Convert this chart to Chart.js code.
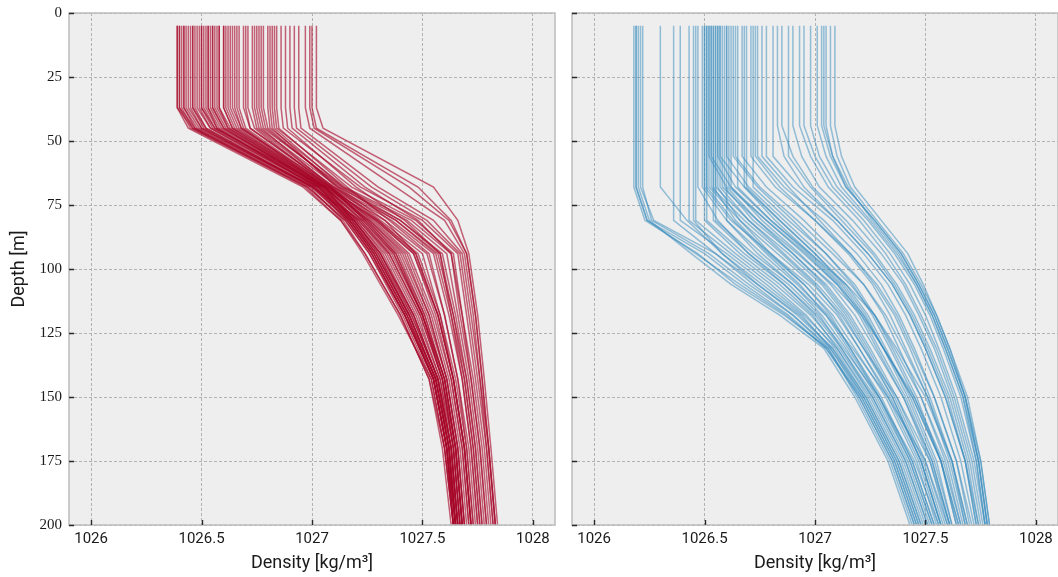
<!DOCTYPE html>
<html><head><meta charset="utf-8">
<script src="https://cdn.jsdelivr.net/npm/chart.js@4.4.1/dist/chart.umd.min.js"></script>
<style>
html,body{margin:0;padding:0;background:#fff;}
#wrap{position:relative;width:1058px;height:577px;overflow:hidden;background:#fff;}
canvas{position:absolute;top:0;}
#c1{left:0;}
#c2{left:562px;}
</style></head><body>
<div id="wrap"><canvas id="c1" width="562" height="577"></canvas><canvas id="c2" width="496" height="577"></canvas></div>
<script>
const xTicks = [1026, 1026.5, 1027, 1027.5, 1028];
const yTicks = [0, 25, 50, 75, 100, 125, 150, 175, 200];
const xLabel = 'Density [kg/m³]';
const yLabel = 'Depth [m]';

// Red panel: depth levels [m] and density profiles [kg/m3]
const redDepths = [5, 37, 45, 68, 81, 94, 118, 143, 170, 200];
const redProfiles = [
[1026.39,1026.39,1026.46,1026.99,1027.14,1027.24,1027.40,1027.53,1027.59,1027.63],
[1026.39,1026.39,1026.44,1026.96,1027.13,1027.23,1027.39,1027.54,1027.60,1027.64],
[1026.40,1026.40,1026.47,1027.00,1027.16,1027.27,1027.42,1027.55,1027.61,1027.65],
[1026.40,1026.40,1026.45,1026.98,1027.15,1027.26,1027.42,1027.55,1027.61,1027.65],
[1026.41,1026.41,1026.46,1026.97,1027.13,1027.24,1027.40,1027.53,1027.60,1027.64],
[1026.42,1026.42,1026.48,1027.01,1027.18,1027.30,1027.44,1027.56,1027.62,1027.66],
[1026.42,1026.42,1026.47,1026.98,1027.15,1027.26,1027.41,1027.54,1027.60,1027.64],
[1026.43,1026.43,1026.49,1027.01,1027.19,1027.31,1027.46,1027.57,1027.63,1027.66],
[1026.44,1026.44,1026.50,1027.02,1027.20,1027.33,1027.47,1027.58,1027.64,1027.67],
[1026.45,1026.45,1026.50,1027.00,1027.17,1027.29,1027.44,1027.56,1027.62,1027.65],
[1026.46,1026.46,1026.52,1027.03,1027.17,1027.28,1027.43,1027.55,1027.61,1027.65],
[1026.46,1026.46,1026.51,1027.01,1027.16,1027.27,1027.42,1027.55,1027.61,1027.64],
[1026.47,1026.47,1026.52,1027.00,1027.22,1027.36,1027.50,1027.60,1027.65,1027.68],
[1026.48,1026.48,1026.54,1027.03,1027.21,1027.35,1027.49,1027.59,1027.64,1027.67],
[1026.49,1026.49,1026.54,1027.03,1027.18,1027.29,1027.44,1027.56,1027.62,1027.65],
[1026.50,1026.50,1026.55,1027.04,1027.19,1027.31,1027.45,1027.57,1027.63,1027.66],
[1026.50,1026.50,1026.56,1027.06,1027.23,1027.37,1027.50,1027.60,1027.65,1027.68],
[1026.51,1026.51,1026.56,1027.05,1027.25,1027.40,1027.52,1027.61,1027.66,1027.69],
[1026.52,1026.52,1026.57,1027.02,1027.16,1027.27,1027.42,1027.55,1027.61,1027.64],
[1026.53,1026.53,1026.58,1027.05,1027.19,1027.30,1027.45,1027.57,1027.62,1027.65],
[1026.53,1026.53,1026.57,1027.03,1027.17,1027.28,1027.43,1027.56,1027.62,1027.65],
[1026.54,1026.54,1026.59,1027.06,1027.28,1027.44,1027.55,1027.63,1027.68,1027.71],
[1026.55,1026.55,1026.60,1027.04,1027.21,1027.34,1027.48,1027.58,1027.63,1027.66],
[1026.55,1026.55,1026.60,1027.06,1027.26,1027.41,1027.53,1027.61,1027.66,1027.69],
[1026.56,1026.56,1026.61,1027.04,1027.17,1027.28,1027.43,1027.55,1027.61,1027.64],
[1026.57,1026.57,1026.62,1027.07,1027.30,1027.48,1027.58,1027.65,1027.70,1027.73],
[1026.58,1026.58,1026.62,1027.05,1027.23,1027.37,1027.50,1027.59,1027.64,1027.67],
[1026.58,1026.58,1026.63,1027.05,1027.19,1027.31,1027.46,1027.57,1027.63,1027.66],
[1026.60,1026.60,1026.64,1027.06,1027.18,1027.29,1027.44,1027.56,1027.62,1027.65],
[1026.60,1026.60,1026.64,1027.07,1027.29,1027.46,1027.57,1027.64,1027.69,1027.72],
[1026.61,1026.61,1026.65,1027.08,1027.33,1027.52,1027.60,1027.66,1027.71,1027.74],
[1026.62,1026.62,1026.66,1027.06,1027.22,1027.35,1027.49,1027.59,1027.64,1027.67],
[1026.63,1026.63,1026.67,1027.07,1027.26,1027.42,1027.53,1027.61,1027.66,1027.69],
[1026.64,1026.64,1026.68,1027.08,1027.24,1027.38,1027.51,1027.60,1027.65,1027.68],
[1026.65,1026.65,1026.68,1027.09,1027.36,1027.55,1027.62,1027.68,1027.72,1027.75],
[1026.66,1026.66,1026.69,1027.06,1027.20,1027.32,1027.46,1027.57,1027.63,1027.66],
[1026.67,1026.67,1026.70,1027.08,1027.25,1027.39,1027.51,1027.60,1027.65,1027.68],
[1026.69,1026.69,1026.72,1027.09,1027.27,1027.43,1027.54,1027.62,1027.67,1027.70],
[1026.70,1026.70,1026.72,1027.10,1027.38,1027.57,1027.64,1027.69,1027.73,1027.76],
[1026.71,1026.71,1026.74,1027.08,1027.29,1027.46,1027.56,1027.63,1027.68,1027.71],
[1026.73,1026.73,1026.75,1027.10,1027.30,1027.47,1027.57,1027.64,1027.69,1027.72],
[1026.74,1026.74,1026.76,1027.12,1027.40,1027.59,1027.65,1027.70,1027.74,1027.77],
[1026.75,1026.75,1026.77,1027.09,1027.24,1027.38,1027.50,1027.59,1027.65,1027.68],
[1026.76,1026.76,1026.78,1027.14,1027.43,1027.61,1027.66,1027.71,1027.75,1027.78],
[1026.77,1026.77,1026.79,1027.13,1027.38,1027.56,1027.63,1027.69,1027.73,1027.76],
[1026.78,1026.78,1026.80,1027.12,1027.33,1027.47,1027.57,1027.64,1027.69,1027.72],
[1026.80,1026.80,1026.81,1027.15,1027.45,1027.63,1027.67,1027.72,1027.76,1027.79],
[1026.81,1026.81,1026.82,1027.11,1027.31,1027.50,1027.58,1027.64,1027.69,1027.72],
[1026.82,1026.82,1026.83,1027.14,1027.40,1027.58,1027.64,1027.70,1027.74,1027.77],
[1026.83,1026.83,1026.84,1027.18,1027.47,1027.64,1027.68,1027.73,1027.77,1027.80],
[1026.84,1026.84,1026.85,1027.16,1027.35,1027.53,1027.60,1027.66,1027.70,1027.73],
[1026.86,1026.86,1026.87,1027.22,1027.50,1027.66,1027.70,1027.74,1027.78,1027.81],
[1026.88,1026.88,1026.89,1027.20,1027.42,1027.58,1027.63,1027.68,1027.72,1027.75],
[1026.90,1026.90,1026.91,1027.24,1027.48,1027.63,1027.68,1027.72,1027.76,1027.79],
[1026.92,1026.92,1026.93,1027.27,1027.52,1027.67,1027.71,1027.75,1027.79,1027.82],
[1026.94,1026.94,1026.95,1027.30,1027.55,1027.68,1027.72,1027.76,1027.80,1027.83],
[1026.97,1026.97,1026.99,1027.38,1027.60,1027.69,1027.73,1027.76,1027.79,1027.82],
[1026.99,1026.99,1027.01,1027.44,1027.62,1027.70,1027.74,1027.77,1027.80,1027.83],
[1027.00,1027.00,1027.02,1027.48,1027.63,1027.70,1027.74,1027.77,1027.80,1027.83],
[1027.02,1027.02,1027.05,1027.55,1027.66,1027.71,1027.75,1027.78,1027.81,1027.84]
];

// Blue panel: depth levels [m] and density profiles [kg/m3]
const blueDepths = [5, 44, 56, 68, 81, 94, 106, 118, 131, 150, 175, 200];
const blueProfiles = [
[1026.18,1026.18,1026.18,1026.18,1026.23,1026.47,1026.64,1026.86,1027.06,1027.19,1027.34,1027.44],
[1026.19,1026.19,1026.19,1026.19,1026.24,1026.50,1026.68,1026.88,1027.05,1027.21,1027.36,1027.46],
[1026.19,1026.19,1026.19,1026.19,1026.24,1026.46,1026.66,1026.87,1027.05,1027.20,1027.35,1027.45],
[1026.20,1026.20,1026.20,1026.20,1026.25,1026.44,1026.62,1026.84,1027.04,1027.18,1027.33,1027.43],
[1026.21,1026.21,1026.21,1026.21,1026.27,1026.55,1026.74,1026.93,1027.08,1027.23,1027.38,1027.48],
[1026.22,1026.22,1026.22,1026.22,1026.26,1026.52,1026.70,1026.90,1027.07,1027.22,1027.37,1027.47],
[1026.30,1026.30,1026.30,1026.30,1026.42,1026.58,1026.74,1026.92,1027.08,1027.22,1027.37,1027.47],
[1026.36,1026.36,1026.36,1026.36,1026.36,1026.55,1026.72,1026.90,1027.06,1027.20,1027.35,1027.45],
[1026.39,1026.39,1026.39,1026.39,1026.39,1026.60,1026.78,1026.95,1027.10,1027.25,1027.40,1027.50],
[1026.43,1026.43,1026.43,1026.43,1026.43,1026.62,1026.80,1026.96,1027.09,1027.23,1027.38,1027.48],
[1026.45,1026.45,1026.45,1026.45,1026.45,1026.58,1026.76,1026.94,1027.07,1027.21,1027.36,1027.46],
[1026.46,1026.46,1026.46,1026.46,1026.46,1026.64,1026.82,1026.98,1027.11,1027.26,1027.41,1027.51],
[1026.47,1026.47,1026.47,1026.47,1026.56,1026.70,1026.86,1027.00,1027.12,1027.27,1027.42,1027.52],
[1026.49,1026.49,1026.49,1026.49,1026.60,1026.74,1026.90,1027.03,1027.14,1027.28,1027.43,1027.53],
[1026.50,1026.50,1026.50,1026.50,1026.50,1026.66,1026.84,1026.99,1027.10,1027.24,1027.39,1027.49],
[1026.50,1026.50,1026.50,1026.50,1026.62,1026.80,1026.97,1027.10,1027.20,1027.34,1027.48,1027.57],
[1026.51,1026.51,1026.51,1026.51,1026.63,1026.78,1026.93,1027.05,1027.15,1027.29,1027.44,1027.54],
[1026.51,1026.51,1026.51,1026.51,1026.51,1026.68,1026.86,1027.01,1027.13,1027.29,1027.45,1027.56],
[1026.52,1026.52,1026.52,1026.60,1026.74,1026.90,1027.04,1027.15,1027.24,1027.36,1027.49,1027.58],
[1026.52,1026.52,1026.52,1026.52,1026.66,1026.83,1026.99,1027.12,1027.22,1027.37,1027.52,1027.61],
[1026.53,1026.53,1026.53,1026.53,1026.68,1026.85,1027.00,1027.11,1027.20,1027.33,1027.47,1027.56],
[1026.53,1026.53,1026.53,1026.62,1026.78,1026.95,1027.10,1027.22,1027.31,1027.44,1027.57,1027.65],
[1026.54,1026.54,1026.54,1026.54,1026.54,1026.70,1026.88,1027.02,1027.12,1027.26,1027.41,1027.51],
[1026.54,1026.54,1026.54,1026.54,1026.64,1026.79,1026.95,1027.08,1027.18,1027.32,1027.46,1027.55],
[1026.55,1026.55,1026.55,1026.55,1026.70,1026.88,1027.03,1027.14,1027.23,1027.35,1027.48,1027.57],
[1026.55,1026.55,1026.55,1026.55,1026.55,1026.72,1026.90,1027.05,1027.17,1027.33,1027.50,1027.60],
[1026.56,1026.56,1026.56,1026.56,1026.66,1026.80,1026.95,1027.07,1027.16,1027.30,1027.44,1027.54],
[1026.56,1026.56,1026.56,1026.64,1026.80,1026.98,1027.14,1027.27,1027.37,1027.50,1027.62,1027.69],
[1026.57,1026.57,1026.57,1026.68,1026.84,1027.00,1027.13,1027.23,1027.31,1027.42,1027.54,1027.62],
[1026.57,1026.57,1026.57,1026.57,1026.70,1026.86,1027.01,1027.13,1027.22,1027.35,1027.48,1027.57],
[1026.58,1026.58,1026.58,1026.58,1026.74,1026.92,1027.08,1027.21,1027.31,1027.45,1027.58,1027.66],
[1026.59,1026.59,1026.59,1026.59,1026.72,1026.90,1027.05,1027.16,1027.25,1027.37,1027.50,1027.59],
[1026.60,1026.60,1026.60,1026.60,1026.60,1026.76,1026.92,1027.06,1027.16,1027.29,1027.43,1027.53],
[1026.60,1026.60,1026.60,1026.70,1026.86,1027.02,1027.16,1027.27,1027.36,1027.48,1027.60,1027.67],
[1026.61,1026.61,1026.61,1026.61,1026.78,1026.96,1027.10,1027.20,1027.28,1027.40,1027.52,1027.60],
[1026.62,1026.62,1026.62,1026.62,1026.76,1026.93,1027.07,1027.18,1027.27,1027.40,1027.53,1027.61],
[1026.63,1026.63,1026.63,1026.74,1026.90,1027.05,1027.17,1027.26,1027.34,1027.45,1027.57,1027.64],
[1026.64,1026.64,1026.64,1026.75,1026.92,1027.08,1027.22,1027.32,1027.40,1027.51,1027.62,1027.69],
[1026.65,1026.65,1026.65,1026.65,1026.80,1026.97,1027.11,1027.21,1027.29,1027.41,1027.53,1027.61],
[1026.67,1026.67,1026.67,1026.78,1026.95,1027.10,1027.22,1027.31,1027.38,1027.48,1027.59,1027.66],
[1026.68,1026.68,1026.68,1026.68,1026.82,1026.98,1027.12,1027.22,1027.31,1027.44,1027.57,1027.65],
[1026.69,1026.69,1026.69,1026.69,1026.84,1027.00,1027.14,1027.24,1027.32,1027.43,1027.55,1027.62],
[1026.71,1026.71,1026.71,1026.82,1027.00,1027.15,1027.26,1027.34,1027.41,1027.51,1027.61,1027.68],
[1026.72,1026.72,1026.72,1026.72,1026.88,1027.05,1027.18,1027.27,1027.35,1027.46,1027.57,1027.64],
[1026.73,1026.73,1026.73,1026.84,1027.00,1027.16,1027.28,1027.37,1027.44,1027.54,1027.64,1027.71],
[1026.74,1026.74,1026.74,1026.86,1027.04,1027.19,1027.30,1027.38,1027.45,1027.54,1027.64,1027.70],
[1026.76,1026.76,1026.76,1026.88,1027.02,1027.16,1027.27,1027.36,1027.43,1027.52,1027.62,1027.68],
[1026.78,1026.78,1026.78,1026.90,1027.08,1027.22,1027.33,1027.41,1027.48,1027.57,1027.66,1027.72],
[1026.81,1026.81,1026.81,1026.93,1027.10,1027.24,1027.35,1027.43,1027.50,1027.59,1027.68,1027.73],
[1026.83,1026.83,1026.86,1026.95,1027.10,1027.24,1027.35,1027.43,1027.50,1027.59,1027.68,1027.74],
[1026.85,1026.85,1026.90,1026.99,1027.14,1027.27,1027.37,1027.45,1027.52,1027.61,1027.69,1027.74],
[1026.88,1026.88,1026.88,1026.98,1027.12,1027.26,1027.36,1027.44,1027.51,1027.60,1027.68,1027.73],
[1026.90,1026.90,1026.94,1027.02,1027.17,1027.30,1027.40,1027.47,1027.54,1027.62,1027.70,1027.75],
[1026.93,1026.93,1026.98,1027.06,1027.20,1027.32,1027.41,1027.48,1027.55,1027.63,1027.71,1027.76],
[1026.95,1026.95,1027.00,1027.08,1027.22,1027.34,1027.43,1027.50,1027.56,1027.64,1027.72,1027.77],
[1026.98,1026.98,1027.02,1027.10,1027.24,1027.36,1027.45,1027.52,1027.58,1027.66,1027.73,1027.77],
[1027.01,1027.01,1027.05,1027.12,1027.25,1027.37,1027.46,1027.53,1027.59,1027.67,1027.74,1027.78],
[1027.03,1027.03,1027.07,1027.14,1027.27,1027.39,1027.47,1027.54,1027.60,1027.68,1027.74,1027.78],
[1027.04,1027.04,1027.08,1027.14,1027.27,1027.39,1027.47,1027.54,1027.60,1027.68,1027.74,1027.78],
[1027.05,1027.05,1027.08,1027.15,1027.26,1027.38,1027.46,1027.53,1027.59,1027.67,1027.73,1027.77],
[1027.07,1027.07,1027.10,1027.16,1027.28,1027.40,1027.48,1027.55,1027.61,1027.68,1027.75,1027.79],
[1027.09,1027.09,1027.12,1027.18,1027.30,1027.42,1027.49,1027.55,1027.61,1027.69,1027.75,1027.79]
];

const RED = 'rgba(166,6,40,0.62)';
const BLUE = 'rgba(52,138,189,0.5)';

const framePlugin = {
  id: 'frame',
  beforeDraw(chart) {
    const {ctx, chartArea: a} = chart;
    ctx.save();
    ctx.fillStyle = '#eeeeee';
    ctx.fillRect(a.left, a.top, a.right - a.left, a.bottom - a.top);
    ctx.restore();
  },
  afterDraw(chart) {
    const {ctx, chartArea: a, scales} = chart;
    ctx.save();
    ctx.strokeStyle = '#bcbcbc';
    ctx.lineWidth = 1.5;
    ctx.strokeRect(a.left, a.top, a.right - a.left, a.bottom - a.top);
    ctx.strokeStyle = '#2a2a2a';
    ctx.lineWidth = 1.4;
    ctx.beginPath();
    scales.x.ticks.forEach(t => {
      const px = Math.round(scales.x.getPixelForValue(t.value)) + 0.5;
      ctx.moveTo(px, a.bottom); ctx.lineTo(px, a.bottom - 5);
    });
    scales.y.ticks.forEach(t => {
      const py = Math.round(scales.y.getPixelForValue(t.value)) + 0.5;
      ctx.moveTo(a.left, py); ctx.lineTo(a.left + 5, py);
    });
    ctx.stroke();
    ctx.restore();
  }
};

function makeDatasets(depths, profiles, color) {
  return profiles.map(p => ({
    data: depths.map((d, i) => ({x: p[i], y: d})),
    borderColor: color,
    backgroundColor: color,
    borderWidth: 1.5,
    pointRadius: 0,
    showLine: true,
    fill: false,
    tension: 0
  }));
}

function makeChart(id, datasets, showYLabels, yWidth, padRight) {
  return new Chart(document.getElementById(id), {
    type: 'scatter',
    data: {datasets},
    plugins: [framePlugin],
    options: {
      responsive: false,
      animation: false,
      events: [],
      layout: {padding: {top: 13, right: padRight, left: 0, bottom: 0}},
      plugins: {legend: {display: false}, tooltip: {enabled: false}},
      scales: {
        x: {
          type: 'linear', min: 1025.9, max: 1028.1,
          afterBuildTicks: s => { s.ticks = xTicks.map(v => ({value: v})); },
          afterFit: s => { s.height = 52; s.paddingLeft = 0; s.paddingRight = 0; },
          grid: {color: '#b2b2b2', lineWidth: 1, drawTicks: false},
          border: {display: false, dash: [3, 2]},
          ticks: {
            padding: 5, color: '#1a1a1a', maxRotation: 0,
            font: {family: 'Roboto, "Noto Sans", sans-serif', size: 15},
            callback: v => String(v)
          },
          title: {
            display: true, text: xLabel, color: '#1a1a1a',
            font: {family: 'Roboto, "Noto Sans", sans-serif', size: 18},
            padding: {top: 0, bottom: 3}
          }
        },
        y: {
          type: 'linear', min: 0, max: 200, reverse: true,
          afterBuildTicks: s => { s.ticks = yTicks.map(v => ({value: v})); },
          afterFit: s => { s.width = yWidth; s.paddingTop = 0; s.paddingBottom = 0; },
          grid: {color: '#b2b2b2', lineWidth: 1, drawTicks: false},
          border: {display: false, dash: [3, 2]},
          ticks: {
            display: showYLabels, padding: 7, color: '#1a1a1a',
            font: {family: '"Liberation Serif", "DejaVu Serif", serif', size: 15},
            callback: v => String(v)
          },
          title: {
            display: showYLabels, text: yLabel, color: '#1a1a1a',
            font: {family: 'Roboto, "Noto Sans", sans-serif', size: 18},
            padding: {top: 9, bottom: 0}
          }
        }
      }
    }
  });
}

makeChart('c1', makeDatasets(redDepths, redProfiles, RED), true, 69, 7);
makeChart('c2', makeDatasets(blueDepths, blueProfiles, BLUE), false, 10, 0);
</script>
</body></html>
